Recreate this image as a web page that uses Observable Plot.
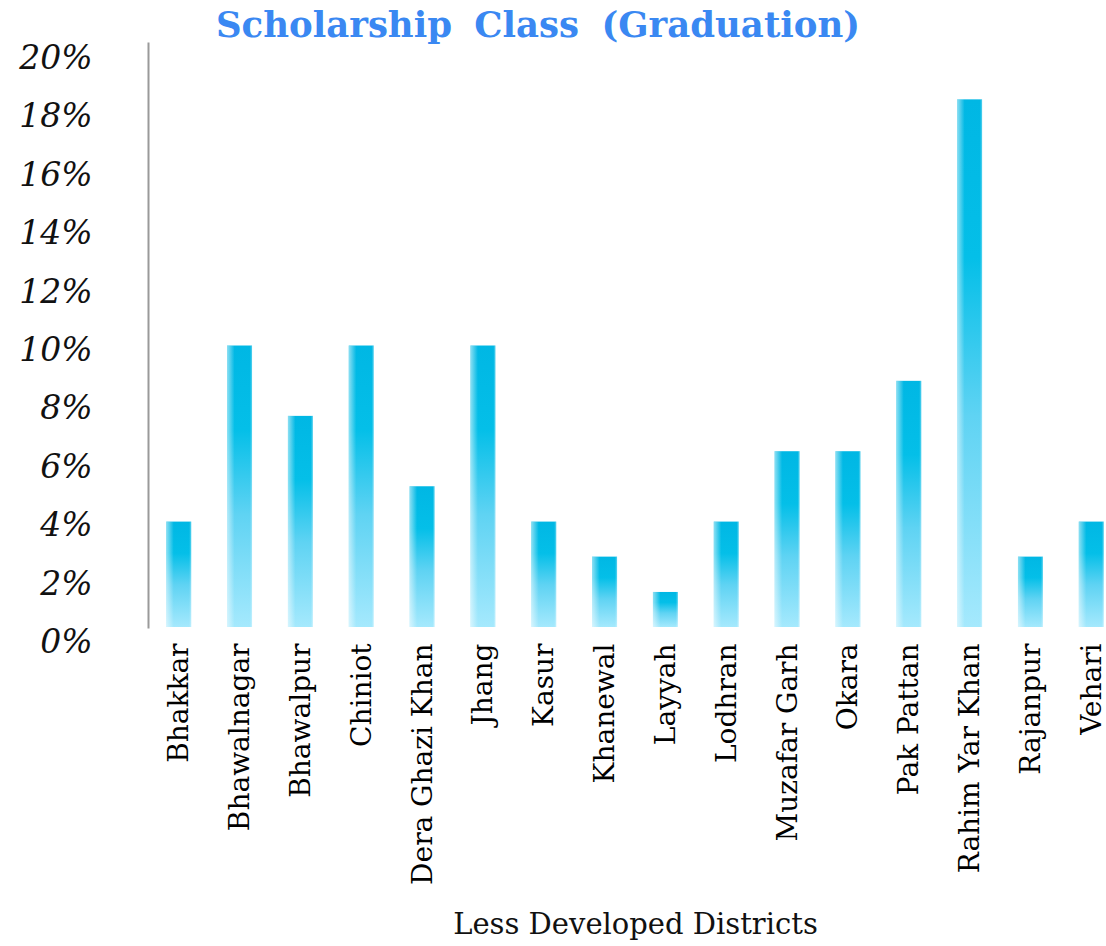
<!DOCTYPE html>
<html>
<head>
<meta charset="utf-8">
<script src="https://cdn.jsdelivr.net/npm/d3@7"></script>
<script src="https://cdn.jsdelivr.net/npm/@observablehq/plot@0.6"></script>
<style>
  html, body { margin: 0; padding: 0; background: #fff; }
  #wrap { position: relative; width: 1106px; height: 946px; }
  #title {
    position: absolute; top: 4px; left: 0; width: 1076px; text-align: center;
    font-family: "DejaVu Serif", serif; font-weight: bold; font-size: 35.5px;
    color: #3a88f2; word-spacing: 10px; z-index: 2;
  }
  #chart { position: absolute; top: 0; left: 0; }
</style>
</head>
<body>
<div id="wrap">
  <div id="title">Scholarship Class (Graduation)</div>
  <div id="chart"></div>
</div>
<script>
const districts = ["Bhakkar", "Bhawalnagar", "Bhawalpur", "Chiniot", "Dera Ghazi Khan", "Jhang", "Kasur", "Khanewal", "Layyah", "Lodhran", "Muzafar Garh", "Okara", "Pak Pattan", "Rahim Yar Khan", "Rajanpur", "Vehari"];
const shares = [3.61, 9.64, 7.23, 9.64, 4.82, 9.64, 3.61, 2.41, 1.20, 3.61, 6.02, 6.02, 8.43, 18.07, 2.41, 3.61];
const yTicks = [0, 2, 4, 6, 8, 10, 12, 14, 16, 18, 20];
const xLabel = "Less Developed Districts";

const data = districts.map((d, i) => ({district: d, share: shares[i]}));

const chart = Plot.plot({
  width: 1106,
  height: 946,
  marginTop: 43,
  marginBottom: 319,
  marginLeft: 148,
  marginRight: 0,
  style: {background: "transparent", overflow: "visible"},
  x: {domain: districts, range: [148, 1122], paddingInner: 0.59, paddingOuter: 0.3, round: false},
  y: {domain: [0, 20]},
  marks: [
    Plot.barY(data, {x: "district", y: "share", fill: "url(#barV)"}),
    Plot.barY(data, {x: "district", y: "share", fill: "url(#barH)"}),
    Plot.frame({anchor: "left", stroke: "#9a9a9a", strokeWidth: 2}),
    Plot.axisY({
      ticks: yTicks, tickFormat: d => d + "%", tickSize: 0, tickPadding: 56,
      fontSize: 33, fontStyle: "italic", fontFamily: "DejaVu Serif", fill: "#111", dy: 15, label: null
    }),
    Plot.axisX({
      tickRotate: -90, tickSize: 0, tickPadding: 16, fontSize: 28,
      fontFamily: "DejaVu Serif", fill: "#000", label: null
    }),
    Plot.text([xLabel], {
      text: d => d, frameAnchor: "bottom", dx: 8, dy: 306,
      fontSize: 29, fontFamily: "DejaVu Serif", fill: "#111"
    })
  ]
});

const svg = d3.select(chart);
const defs = svg.insert("defs", ":first-child");
const gv = defs.append("linearGradient").attr("id", "barV")
  .attr("x1", 0).attr("y1", 0).attr("x2", 0).attr("y2", 1);
[[0, "#00b7e4"], [0.3, "#04bfe8"], [0.6, "#5fd3f3"], [1, "#a5e9fd"]].forEach(([o, c]) =>
  gv.append("stop").attr("offset", o).attr("stop-color", c));
const gh = defs.append("linearGradient").attr("id", "barH")
  .attr("x1", 0).attr("y1", 0).attr("x2", 1).attr("y2", 0);
[[0, "#ffffff", 0.55], [0.3, "#ffffff", 0.0], [0.92, "#ffffff", 0.0], [1, "#ffffff", 0.35]].forEach(([o, c, a]) =>
  gh.append("stop").attr("offset", o).attr("stop-color", c).attr("stop-opacity", a));

document.getElementById("chart").appendChild(chart);
</script>
</body>
</html>
